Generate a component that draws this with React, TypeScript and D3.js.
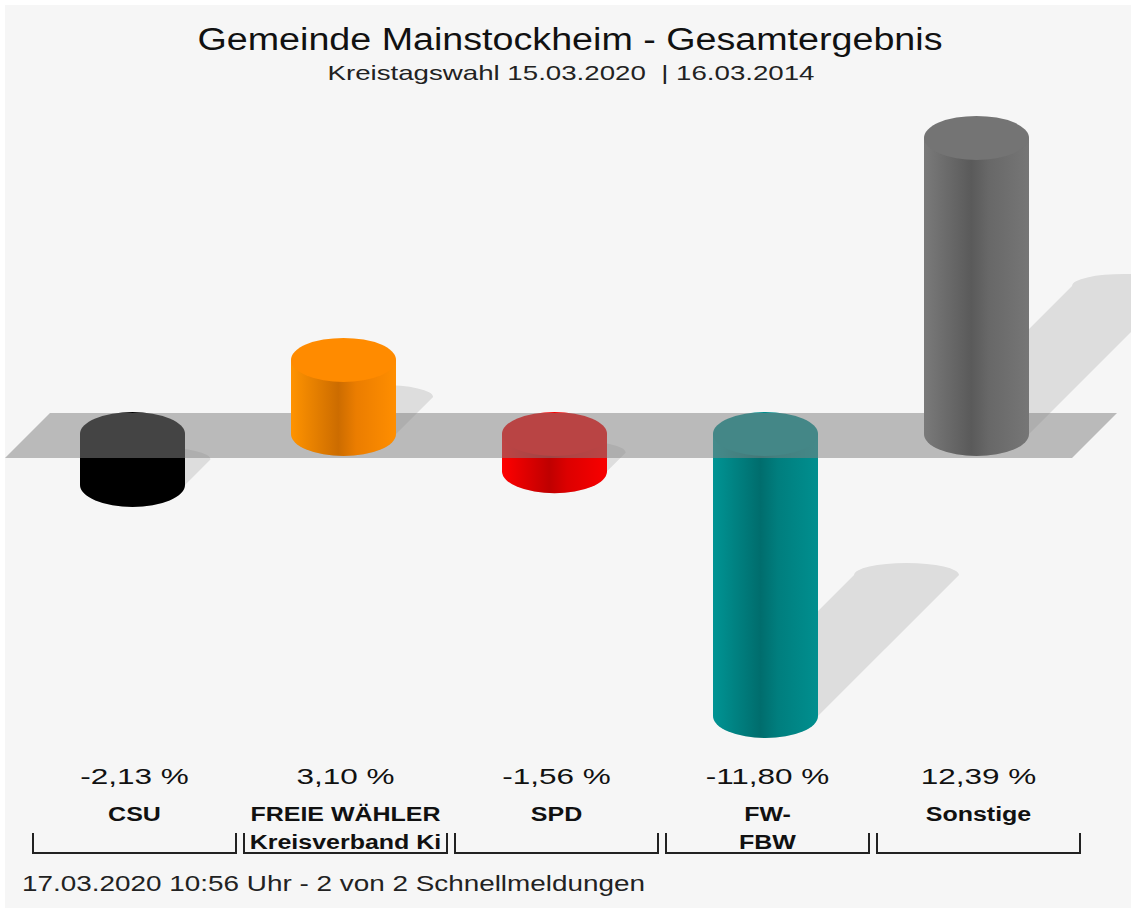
import React from 'react';
import * as d3 from 'd3';

// Gemeinde Mainstockheim, Kreistagswahl 2020 vs 2014: change in percentage points
const parties = ['CSU', 'FREIE WÄHLER', 'SPD', 'FW-', 'Sonstige'];
const partySecondLine = ['', 'Kreisverband Ki', '', 'FBW', ''];
const changes = [-2.13, 3.1, -1.56, -11.8, 12.39];
const partyColors = ['#000000', '#f88400', '#e80000', '#008585', '#6e6e6e'];

const title = 'Gemeinde Mainstockheim - Gesamtergebnis';
const subtitle = 'Kreistagswahl 15.03.2020  | 16.03.2014';
const footer = '17.03.2020 10:56 Uhr - 2 von 2 Schnellmeldungen';

const W = 1131;
const H = 908;
const FONT = 'Arial, "Liberation Sans", Helvetica, sans-serif';

const de = d3.formatLocale({ decimal: ',', thousands: '.', grouping: [3], currency: ['', ' €'], minus: '-' });
const fmt = de.format('.2f');

export default function App() {
    // scales
    const x = d3.scaleBand<string>().domain(parties).range([29, 1084]);
    const y = d3.scaleLinear().domain([0, 10]).range([434, 195]);

    const r = 52.5;     // cylinder radius (x)
    const ry = 22;      // ellipse half height
    const k = 0.5;      // shadow shear
    const y0 = y(0);

    const bars = parties.map((p, i) => {
        const v = changes[i];
        const cx = (x(p) as number) + x.bandwidth() / 2 - 2;
        const top = Math.min(y0, y(v));
        const bot = Math.max(y0, y(v));
        const L = bot - top;
        const side = `M${cx - r},${top} L${cx - r},${bot} A${r},${ry} 0 0 0 ${cx + r},${bot} L${cx + r},${top} Z`;
        const sx = cx + k * L, sy = bot - k * L;
        const shadow = `M${cx - r},${bot} L${sx - r},${sy} A${r},12 0 0 1 ${sx + r},${sy} L${cx + r},${bot} A${r},${ry} 0 0 1 ${cx - r},${bot} Z`;
        return { p, i, v, cx, top, bot, side, shadow };
    });

    const c = (i: number) => d3.color(partyColors[i]) as d3.RGBColor;

    const cylinder = (b: typeof bars[number]) => (
        <g key={'bar' + b.i}>
            <path d={b.side} fill={`url(#grad${b.i})`} />
            <ellipse cx={b.cx} cy={b.top} rx={r} ry={ry} fill={c(b.i).brighter(0.15).formatHex()} />
        </g>
    );

    return (
        <svg width={W} height={H} style={{ position: 'absolute', left: 0, top: 0, display: 'block' }}>
            <defs>
                {partyColors.map((col, i) => (
                    <linearGradient key={i} id={'grad' + i} x1="0" x2="1" y1="0" y2="0">
                        <stop offset="0" stopColor={c(i).brighter(0.3).formatHex()} />
                        <stop offset="0.45" stopColor={c(i).darker(0.55).formatHex()} />
                        <stop offset="0.62" stopColor={c(i).darker(0.15).formatHex()} />
                        <stop offset="1" stopColor={c(i).brighter(0.2).formatHex()} />
                    </linearGradient>
                ))}
            </defs>
            <rect x={0} y={0} width={W} height={H} fill="#ffffff" />
            <rect x={5} y={5} width={W - 5} height={H - 5} fill="#f6f6f6" />

            {/* title */}
            <text x={570} y={50} textAnchor="middle" fontFamily={FONT} fontSize={31} fill="#111"
                textLength={745} lengthAdjust="spacingAndGlyphs">{title}</text>
            <text x={571} y={80} textAnchor="middle" fontFamily={FONT} fontSize={21} fill="#222"
                textLength={487} lengthAdjust="spacingAndGlyphs" style={{ whiteSpace: 'pre' }}>{subtitle}</text>

            {/* shadows */}
            {bars.map(b => <path key={'sh' + b.i} d={b.shadow} fill="rgba(0,0,0,0.1)" />)}

            {/* bars below zero sit under the plane */}
            {bars.filter(b => b.v < 0).map(cylinder)}

            {/* zero plane */}
            <path d={`M50,413 L1117,413 L1072,458 L5,458 Z`} fill="rgba(131,131,131,0.52)" />

            {bars.filter(b => b.v >= 0).map(cylinder)}

            {/* labels */}
            {parties.map((p, i) => {
                const x0 = x(p) as number;
                const mid = x0 + x.bandwidth() / 2;
                return (
                    <g key={'lab' + i} fontFamily={FONT} fill="#111">
                        <text transform={`translate(${mid},784) scale(1.4,1)`} textAnchor="middle" fontSize={22.5}>
                            {fmt(changes[i]) + ' %'}
                        </text>
                        <text transform={`translate(${mid},821) scale(1.25,1)`} textAnchor="middle" fontSize={20} fontWeight="bold">{p}</text>
                        {partySecondLine[i] && (
                            <text transform={`translate(${mid},849) scale(1.25,1)`} textAnchor="middle" fontSize={20} fontWeight="bold">
                                {partySecondLine[i]}
                            </text>
                        )}
                        <path d={`M${x0 + 4},833 L${x0 + 4},853 L${x0 + x.bandwidth() - 4},853 L${x0 + x.bandwidth() - 4},833`}
                            fill="none" stroke="#222" strokeWidth={2} />
                    </g>
                );
            })}

            <text x={22} y={891} fontFamily={FONT} fontSize={22} fill="#222"
                textLength={623} lengthAdjust="spacingAndGlyphs">{footer}</text>
        </svg>
    );
}
